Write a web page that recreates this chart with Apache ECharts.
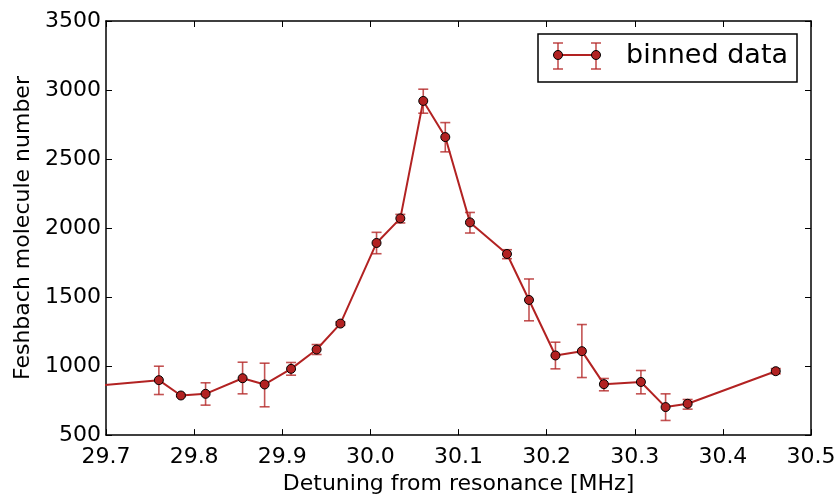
<!DOCTYPE html>
<html>
<head>
<meta charset="utf-8">
<script src="https://cdn.jsdelivr.net/npm/echarts@6/dist/echarts.min.js"></script>
<style>
html,body{margin:0;padding:0;background:#fff;}
#chart{width:840px;height:500px;}
</style>
</head>
<body>
<div id="chart"></div>
<script>
// ---- data ----
const detuning = [29.60, 29.760, 29.785, 29.813, 29.855, 29.880, 29.910, 29.939, 29.966, 30.007, 30.034, 30.060, 30.085, 30.113, 30.155, 30.180, 30.210, 30.240, 30.265, 30.307, 30.335, 30.360, 30.460];
const molecules = [805, 898, 787, 799, 912, 867, 980, 1120, 1308, 1892, 2070, 2921, 2659, 2041, 1812, 1479, 1077, 1108, 869, 885, 703, 727, 963];
const errLow  = [null, 794, 780, 717, 799, 705, 934, 1084, 1295, 1814, 2037, 2832, 2552, 1964, 1778, 1328, 980, 917, 821, 799, 606, 688, 944];
const errHigh = [null, 999, 794, 879, 1028, 1021, 1026, 1156, 1321, 1969, 2099, 3006, 2764, 2113, 1843, 1631, 1173, 1301, 910, 968, 799, 758, 982];
const xTickMin = 29.7, xTickMax = 30.5, xTickStep = 0.1;
const yTickMin = 500, yTickMax = 3500, yTickStep = 500;
const seriesName = 'binned data';
const xTitle = 'Detuning from resonance [MHz]';
const yTitle = 'Feshbach molecule number';

const RED = '#b22222';
const ERR = 'rgba(178,34,34,0.78)';
const FONT = 'DejaVu Sans';

const pts = detuning.map((x, i) => [x, molecules[i]]);
const errs = detuning.map((x, i) => [x, errLow[i], errHigh[i]]).filter(d => d[1] != null);

const chart = echarts.init(document.getElementById('chart'), null, {renderer: 'canvas'});

const axisCommon = {
  axisLine: {show: true, lineStyle: {color: '#000', width: 1.5}},
  axisTick: {show: true, inside: true, length: 6, lineStyle: {color: '#000', width: 1}},
  splitLine: {show: false}
};

const option = {
  animation: false,
  backgroundColor: '#fff',
  grid: {left: 106, right: 29, top: 21, bottom: 64, containLabel: false},
  xAxis: [
    Object.assign({}, axisCommon, {
      type: 'value', position: 'bottom', min: xTickMin, max: xTickMax, interval: xTickStep,
      name: xTitle, nameLocation: 'middle', nameGap: 34,
      nameTextStyle: {fontFamily: FONT, fontSize: 22, color: '#000'},
      axisLabel: {show: true, margin: 11, fontFamily: FONT, fontSize: 22, color: '#000',
        formatter: v => v.toFixed(1)}
    }),
    Object.assign({}, axisCommon, {
      type: 'value', position: 'top', min: xTickMin, max: xTickMax, interval: xTickStep,
      axisLabel: {show: false}
    })
  ],
  yAxis: [
    Object.assign({}, axisCommon, {
      type: 'value', position: 'left', min: yTickMin, max: yTickMax, interval: yTickStep,
      name: yTitle, nameLocation: 'middle', nameGap: 57,
      nameTextStyle: {fontFamily: FONT, fontSize: 22, color: '#000'},
      axisLabel: {show: true, margin: 5, fontFamily: FONT, fontSize: 22, color: '#000',
        formatter: v => String(Math.round(v))}
    }),
    Object.assign({}, axisCommon, {
      type: 'value', position: 'right', min: yTickMin, max: yTickMax, interval: yTickStep,
      axisLabel: {show: false}
    })
  ],
  series: [
    {
      type: 'custom',
      name: seriesName + ' err',
      xAxisIndex: 0, yAxisIndex: 0,
      clip: true,
      z: 1,
      data: errs,
      renderItem: function (params, api) {
        const x = api.value(0);
        const lo = api.coord([x, api.value(1)]);
        const hi = api.coord([x, api.value(2)]);
        const cw = 5;
        const style = {stroke: ERR, lineWidth: 1.6, fill: null};
        return {
          type: 'group',
          children: [
            {type: 'line', shape: {x1: lo[0], y1: lo[1], x2: hi[0], y2: hi[1]}, style: style},
            {type: 'line', shape: {x1: lo[0] - cw, y1: lo[1], x2: lo[0] + cw, y2: lo[1]}, style: style},
            {type: 'line', shape: {x1: hi[0] - cw, y1: hi[1], x2: hi[0] + cw, y2: hi[1]}, style: style}
          ]
        };
      }
    },
    {
      type: 'line',
      name: seriesName,
      xAxisIndex: 0, yAxisIndex: 0,
      data: pts,
      clip: true,
      z: 2,
      symbol: 'circle',
      symbolSize: 9,
      showAllSymbol: true,
      lineStyle: {color: RED, width: 2},
      itemStyle: {color: RED, borderColor: '#000', borderWidth: 1}
    }
  ],
  graphic: [
    {type: 'rect', shape: {x: 538, y: 34, width: 259, height: 48},
      style: {fill: '#fff', stroke: '#000', lineWidth: 1.5}, z: 10},
    {type: 'line', shape: {x1: 558, y1: 55, x2: 596, y2: 55}, style: {stroke: RED, lineWidth: 2}, z: 11},
    {type: 'line', shape: {x1: 558, y1: 43, x2: 558, y2: 69}, style: {stroke: ERR, lineWidth: 1.6}, z: 11},
    {type: 'line', shape: {x1: 553, y1: 43, x2: 563, y2: 43}, style: {stroke: ERR, lineWidth: 1.6}, z: 11},
    {type: 'line', shape: {x1: 553, y1: 69, x2: 563, y2: 69}, style: {stroke: ERR, lineWidth: 1.6}, z: 11},
    {type: 'line', shape: {x1: 596, y1: 43, x2: 596, y2: 69}, style: {stroke: ERR, lineWidth: 1.6}, z: 11},
    {type: 'line', shape: {x1: 591, y1: 43, x2: 601, y2: 43}, style: {stroke: ERR, lineWidth: 1.6}, z: 11},
    {type: 'line', shape: {x1: 591, y1: 69, x2: 601, y2: 69}, style: {stroke: ERR, lineWidth: 1.6}, z: 11},
    {type: 'circle', shape: {cx: 558, cy: 55, r: 4.5}, style: {fill: RED, stroke: '#000', lineWidth: 1}, z: 12},
    {type: 'circle', shape: {cx: 596, cy: 55, r: 4.5}, style: {fill: RED, stroke: '#000', lineWidth: 1}, z: 12},
    {type: 'text', x: 626, y: 56, z: 12,
      style: {text: seriesName, font: '27px "DejaVu Sans"', fill: '#000', textVerticalAlign: 'middle', verticalAlign: 'middle'}}
  ]
};
chart.setOption(option);
</script>
</body>
</html>
